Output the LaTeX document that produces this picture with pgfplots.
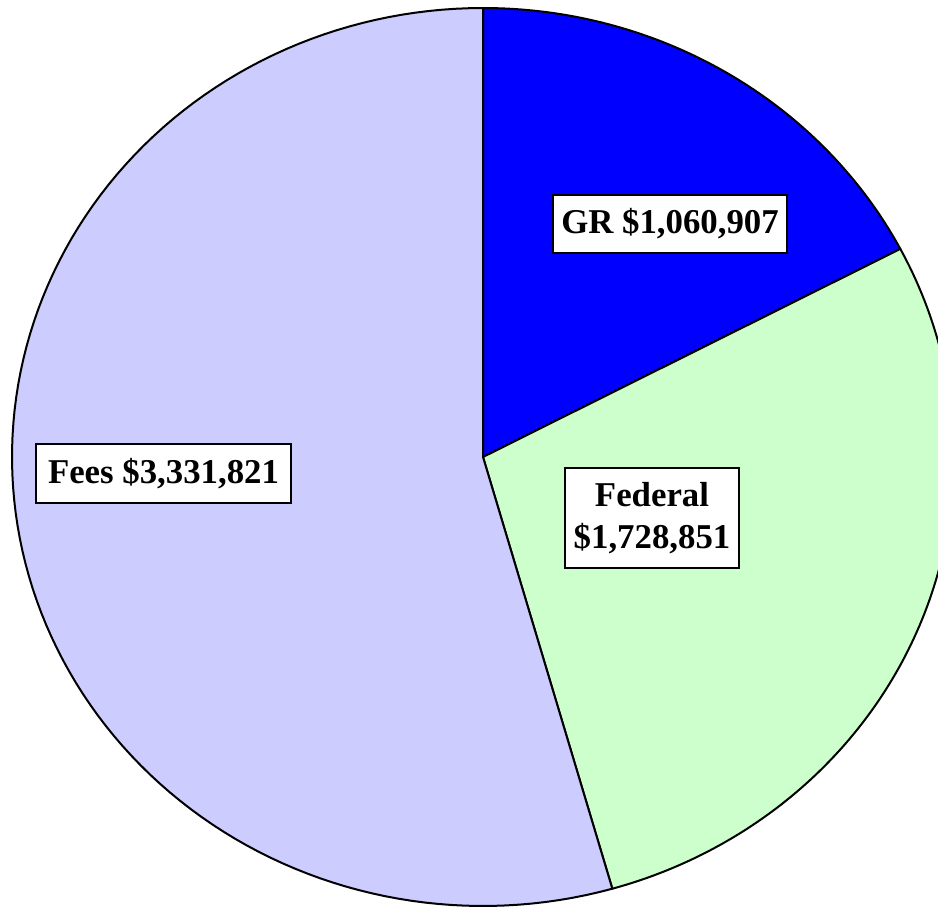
\documentclass[border=0pt]{standalone}
\usepackage{pgfplots}
\usepackage{pgfplotstable}
\usepackage{fontspec}
\setmainfont{Liberation Serif}
\pgfplotsset{compat=1.18}

\definecolor{grblue}{RGB}{0,0,255}
\definecolor{fedgreen}{RGB}{204,255,204}
\definecolor{feeslav}{RGB}{204,204,255}

\tikzset{lbl/.style={draw=black, fill=white, line width=0.75pt, inner sep=0pt,
    font=\fontsize{17.4}{21}\selectfont\bfseries, align=center}}

\pgfplotstableread{
name value
GR 1060907
Federal 1728851
Fees 3331821
}\budget

\begin{document}
\begin{tikzpicture}
\pgfplotstablegetelem{0}{value}\of\budget \let\vA\pgfplotsretval
\pgfplotstablegetelem{1}{value}\of\budget \let\vB\pgfplotsretval
\pgfplotstablegetelem{2}{value}\of\budget \let\vC\pgfplotsretval
\pgfkeys{/pgf/fpu=true,/pgf/fpu/output format=fixed}
\pgfmathsetmacro\aA{90-360*\vA/(\vA+\vB+\vC)}
\pgfmathsetmacro\aB{\aA-360*\vB/(\vA+\vB+\vC)}
\pgfkeys{/pgf/fpu=false}
\begin{axis}[
    name=pie,
    scale only axis,
    width=469pt, height=453pt,
    xmin=-483, xmax=455,
    ymin=-449, ymax=457,
    hide axis,
    clip=true,
    samples=120,
    every axis plot/.append style={draw=black, line width=1pt, line join=round},
]
% GR
\addplot[fill=grblue, domain=\aA:90] ({471*cos(x)},{449*sin(x)}) -- (axis cs:0,0) -- cycle;
% Federal
\addplot[fill=fedgreen, domain=\aB:\aA] ({471*cos(x)},{449*sin(x)}) -- (axis cs:0,0) -- cycle;
% Fees
\addplot[fill=feeslav, domain=-270:\aB] ({471*cos(x)},{449*sin(x)}) -- (axis cs:0,0) -- cycle;

\node[lbl, minimum width=117pt, minimum height=29pt] at (axis cs:187,233) {GR \$1,060,907};
\node[lbl, minimum width=87pt, minimum height=50pt] at (axis cs:169,-61) {Federal\\\$1,728,851};
\node[lbl, minimum width=127.5pt, minimum height=29.5pt] at (axis cs:-319.5,-16.5) {Fees \$3,331,821};
\end{axis}
\path (pie.south west) rectangle (pie.north east);
\end{tikzpicture}
\end{document}
